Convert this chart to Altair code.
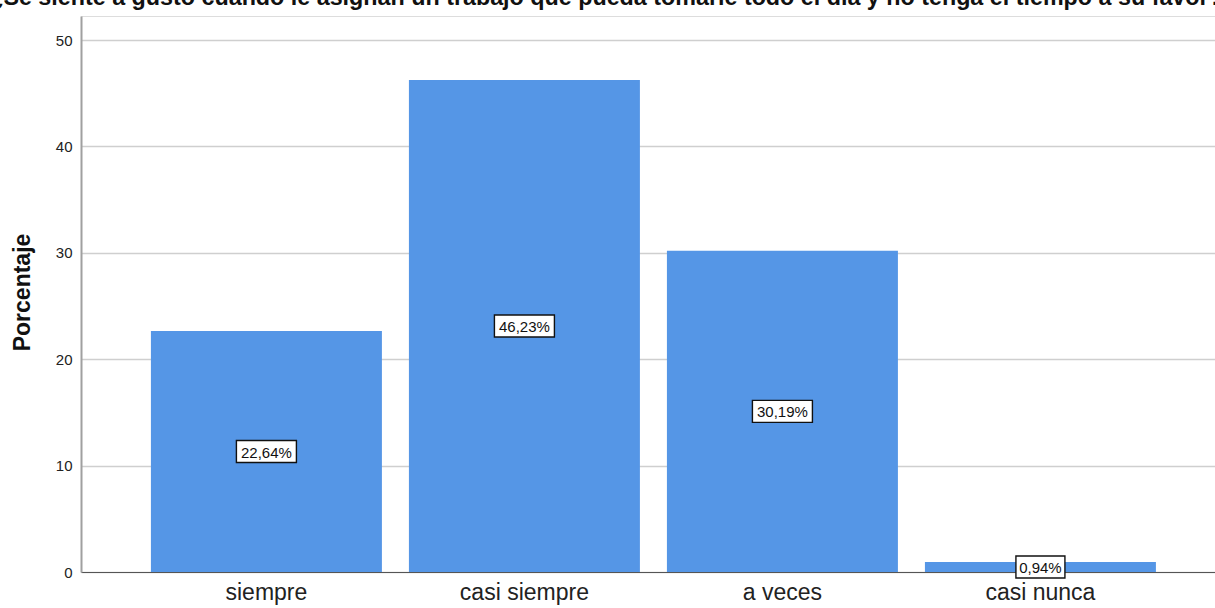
import altair as alt
import pandas as pd

categories = ["siempre", "casi siempre", "a veces", "casi nunca"]
values = [22.64, 46.23, 30.19, 0.94]
labels = ["22,64%", "46,23%", "30,19%", "0,94%"]
y_ticks = [0, 10, 20, 30, 40, 50]
title_text = "¿Se siente a gusto cuando le asignan un trabajo que pueda tomarle todo el día y no tenga el tiempo a su favor?"

PAD_L, PAD_T, PAD_B = 81, 16, 36
W, H = 1215 - PAD_L, 608 - PAD_T - PAD_B
YMAX = H / 10.64

box_h = 22
rows = []
for c, v, l in zip(categories, values, labels):
    w = 11 * len(l) - 6
    hh = box_h / w
    rows.append({
        "cat": c, "val": v, "lab": l, "mid": v / 2,
        "bsize": w * w,
        "bshape": f"M-1,-{hh:.4f}L1,-{hh:.4f}L1,{hh:.4f}L-1,{hh:.4f}Z",
    })
df = pd.DataFrame(rows)

FONT = "Liberation Sans"

xscale = alt.Scale(domain=categories, paddingInner=0.1047, paddingOuter=0.25, align=0.542)
yscale = alt.Scale(domain=[0, YMAX], nice=False)

base = alt.Chart(df)

bars = base.mark_bar(color="#5596e6").encode(
    x=alt.X("cat:N", scale=xscale, sort=categories,
            axis=alt.Axis(title=None, labelAngle=0, labelFont=FONT, labelFontSize=23,
                          labelColor="#222", tickSize=0, labelPadding=9,
                          domainColor="#555", domainWidth=1.2, grid=False)),
    y=alt.Y("val:Q", scale=yscale,
            axis=alt.Axis(title="Porcentaje", values=y_ticks, labelFont=FONT, labelFontSize=15,
                          labelColor="#222", tickSize=0, labelPadding=9,
                          domainColor="#a0a0a0", domainWidth=2,
                          gridColor="#cfcfcf", gridWidth=1.6,
                          titleFont=FONT, titleFontSize=23, titleFontWeight="bold",
                          titleColor="#111", titleX=-59, titleY=276, titleAngle=270,
                          titleAlign="center", titleBaseline="middle")),
)

boxes = base.mark_point(filled=True, fill="white", stroke="#111", strokeWidth=1.4, opacity=1).encode(
    x=alt.X("cat:N", scale=xscale, sort=categories),
    y=alt.Y("mid:Q", scale=yscale),
    size=alt.Size("bsize:Q", scale=None),
    shape=alt.Shape("bshape:N", scale=None),
)

texts = base.mark_text(font=FONT, fontSize=15, color="#111", baseline="middle", align="center", dy=1).encode(
    x=alt.X("cat:N", scale=xscale, sort=categories),
    y=alt.Y("mid:Q", scale=yscale),
    text="lab:N",
)

title = alt.Chart(pd.DataFrame({"t": [title_text]})).mark_text(
    font=FONT, fontSize=23.3, fontWeight="bold", color="#111", align="center", baseline="alphabetic"
).encode(
    x=alt.value(606 - PAD_L),
    y=alt.value(-11),
    text="t:N",
)

chart = alt.layer(bars, boxes, texts, title).properties(
    width=W, height=H,
    autosize=alt.AutoSizeParams(type="none"),
    padding={"left": PAD_L, "top": PAD_T, "right": 0, "bottom": PAD_B},
).configure_view(stroke=None).configure(background="white")

chart.save("out.html", embed_options={"renderer": "svg", "actions": False})
